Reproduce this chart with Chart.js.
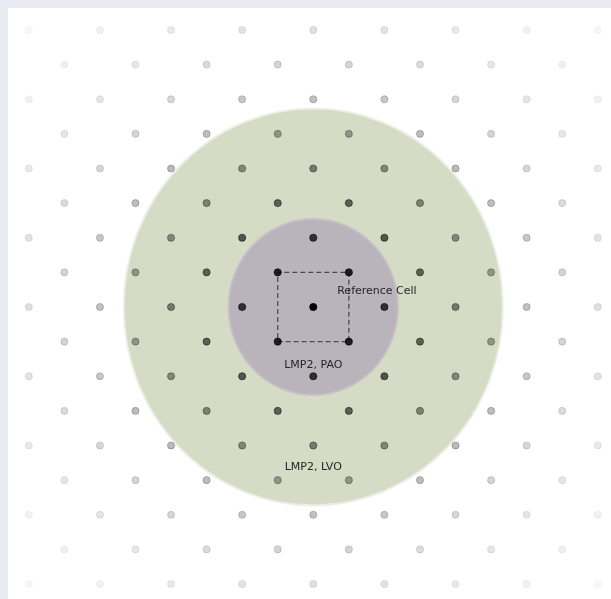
<!DOCTYPE html>
<html>
<head>
<meta charset="utf-8">
<script src="https://cdn.jsdelivr.net/npm/chart.js@4/dist/chart.umd.min.js"></script>
<style>
  html, body { margin: 0; padding: 0; background: #eaeaf2; }
  #wrap { position: relative; width: 611px; height: 599px; }
</style>
</head>
<body>
<div id="wrap"><canvas id="lattice" width="611" height="599"></canvas></div>
<script>
// Lattice site indices; a site exists where column + row is even
const latticeCols = [-8, -7, -6, -5, -4, -3, -2, -1, 0, 1, 2, 3, 4, 5, 6, 7, 8];
const latticeRows = [-8, -7, -6, -5, -4, -3, -2, -1, 0, 1, 2, 3, 4, 5, 6, 7, 8];

// Reference cell outline (closed path)
const cellX = [-1, 1, 1, -1, -1];
const cellY = [-1, -1, 1, 1, -1];

// Truncation regions (outer first), radii in lattice units
const regionNames = ['LMP2, LVO', 'LMP2, PAO'];
const regionRadiusX = [5.33, 2.38];
const regionRadiusY = [5.73, 2.54];

// Text annotations
const labelText = ['Reference Cell', 'LMP2, PAO', 'LMP2, LVO'];
const labelX = [1.79, 0, 0];
const labelY = [0.46, -1.68, -4.62];

// ---- build library data ----
const sites = [];
latticeRows.forEach(r => latticeCols.forEach(c => {
  if ((r + c) % 2 === 0) sites.push({ x: c, y: r });
}));
const cell = cellX.map((x, i) => ({ x, y: cellY[i] }));

// sites fade with distance from the central site
function siteAlpha(p) {
  const d = Math.hypot(p.x, p.y);
  return Math.exp(-Math.pow(d / 4.7, 1.4));
}
function siteFill(ctx) {
  const p = ctx.raw;
  if (!p) return 'rgba(0,0,0,1)';
  return 'rgba(0,0,0,' + siteAlpha(p).toFixed(3) + ')';
}
function siteEdge(ctx) {
  const p = ctx.raw;
  if (!p) return 'rgba(0,0,0,1)';
  return 'rgba(0,0,0,' + (siteAlpha(p) * 0.8).toFixed(3) + ')';
}

const regionFill = ['#d6dbc6', '#b9b3bc'];
const regionRim = ['rgba(236,238,228,0.9)', 'rgba(196,191,198,0.9)'];

const backdrop = {
  id: 'backdrop',
  beforeDraw(chart) {
    const { ctx, chartArea: a } = chart;
    ctx.save();
    ctx.fillStyle = '#eaeaf2';
    ctx.fillRect(0, 0, chart.width, chart.height);
    ctx.fillStyle = '#ffffff';
    ctx.fillRect(a.left, a.top, a.right - a.left, a.bottom - a.top);
    ctx.restore();
  }
};

const regions = {
  id: 'regions',
  beforeDatasetsDraw(chart) {
    const { ctx, scales: { x, y } } = chart;
    const cx = x.getPixelForValue(0), cy = y.getPixelForValue(0);
    ctx.save();
    regionNames.forEach((name, i) => {
      const rx = x.getPixelForValue(regionRadiusX[i]) - cx;
      const ry = cy - y.getPixelForValue(regionRadiusY[i]);
      ctx.beginPath();
      ctx.ellipse(cx, cy, rx, ry, 0, 0, Math.PI * 2);
      ctx.fillStyle = regionFill[i];
      ctx.fill();
      ctx.lineWidth = 2;
      ctx.strokeStyle = regionRim[i];
      ctx.stroke();
    });
    ctx.restore();
  }
};

const annotations = {
  id: 'annotations',
  afterDatasetsDraw(chart) {
    const { ctx, scales: { x, y } } = chart;
    ctx.save();
    ctx.font = '11px "DejaVu Sans"';
    ctx.fillStyle = '#262626';
    ctx.textAlign = 'center';
    ctx.textBaseline = 'middle';
    labelText.forEach((t, i) => {
      ctx.fillText(t, x.getPixelForValue(labelX[i]), y.getPixelForValue(labelY[i]));
    });
    ctx.restore();
  }
};

new Chart(document.getElementById('lattice'), {
  type: 'scatter',
  data: {
    datasets: [
      {
        label: 'sites',
        data: sites,
        pointRadius: 3.6,
        pointBorderWidth: 1,
        pointBackgroundColor: siteFill,
        pointBorderColor: siteEdge,
        order: 0
      },
      {
        label: 'reference cell',
        data: cell,
        showLine: true,
        fill: false,
        borderColor: '#4d4d4d',
        borderWidth: 1.3,
        borderDash: [5, 3],
        pointRadius: 0,
        order: 1
      }
    ]
  },
  options: {
    responsive: false,
    animation: false,
    devicePixelRatio: 1,
    layout: { autoPadding: false, padding: { left: 8, top: 8, right: 0, bottom: 0 } },
    scales: {
      x: { type: 'linear', display: false, min: -8.585, max: 8.372 },
      y: { type: 'linear', display: false, min: -8.433, max: 8.635 }
    },
    plugins: {
      legend: { display: false },
      tooltip: { enabled: false }
    }
  },
  plugins: [backdrop, regions, annotations]
});
</script>
</body>
</html>
